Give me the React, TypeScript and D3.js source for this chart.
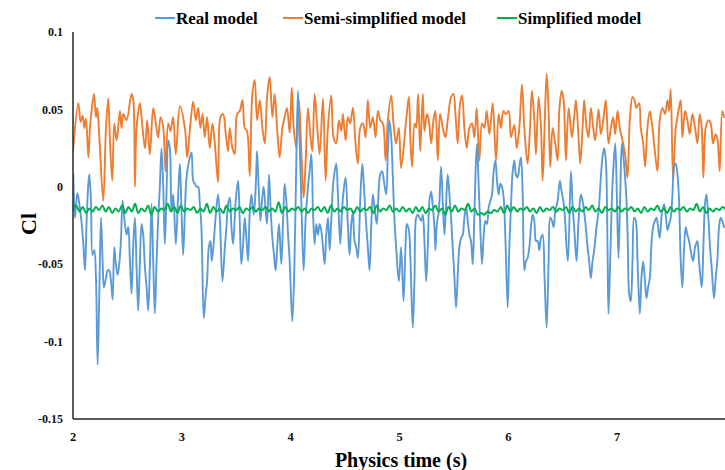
import React from 'react';
import * as d3 from 'd3';

const seriesNames = ['Real model', 'Semi-simplified model', 'Simplified model'];
const seriesColors = ['#5B9BD5', '#ED7D31', '#00B050'];
const xTicks = [2, 3, 4, 5, 6, 7];
const yTicks = [0.1, 0.05, 0, -0.05, -0.1, -0.15];
const yTickLabels = ['0.1', '0.05', '0', '-0.05', '-0.1', '-0.15'];

const realTime = [
  2.003, 2.018, 2.040, 2.058, 2.080, 2.095, 2.110, 2.125, 2.141, 2.150, 2.165, 2.180, 2.196, 2.211, 2.226, 2.242, 2.257, 2.272, 2.284, 2.303,
  2.318, 2.333, 2.349, 2.364, 2.379, 2.394, 2.410, 2.425, 2.440, 2.456, 2.471, 2.492, 2.508, 2.523, 2.538, 2.554, 2.569, 2.584, 2.599, 2.615,
  2.630, 2.645, 2.661, 2.676, 2.691, 2.706, 2.722, 2.737, 2.752, 2.768, 2.783, 2.798, 2.813, 2.829, 2.844, 2.859, 2.875, 2.890, 2.905, 2.921,
  2.945, 2.966, 2.982, 2.997, 3.012, 3.028, 3.043, 3.067, 3.089, 3.104, 3.119, 3.135, 3.150, 3.165, 3.180, 3.202, 3.220, 3.232, 3.248, 3.263,
  3.275, 3.294, 3.312, 3.333, 3.349, 3.373, 3.395, 3.410, 3.425, 3.440, 3.456, 3.471, 3.495, 3.517, 3.532, 3.547, 3.563, 3.578, 3.593, 3.609,
  3.624, 3.639, 3.661, 3.679, 3.691, 3.706, 3.722, 3.737, 3.752, 3.771, 3.783, 3.801, 3.817, 3.832, 3.847, 3.862, 3.878, 3.893, 3.914, 3.930,
  3.945, 3.960, 3.976, 3.991, 4.015, 4.034, 4.052, 4.067, 4.083, 4.098, 4.119, 4.138, 4.159, 4.174, 4.190, 4.205, 4.220, 4.235, 4.251, 4.266,
  4.281, 4.297, 4.312, 4.327, 4.343, 4.358, 4.373, 4.388, 4.404, 4.419, 4.434, 4.456, 4.471, 4.486, 4.505, 4.526, 4.541, 4.557, 4.572, 4.587,
  4.602, 4.618, 4.639, 4.658, 4.673, 4.688, 4.709, 4.725, 4.740, 4.755, 4.774, 4.792, 4.810, 4.823, 4.841, 4.856, 4.878, 4.893, 4.908, 4.924,
  4.939, 4.954, 4.969, 4.994, 5.015, 5.037, 5.055, 5.067, 5.086, 5.101, 5.122, 5.138, 5.153, 5.168, 5.183, 5.199, 5.214, 5.229, 5.245, 5.260,
  5.275, 5.291, 5.306, 5.321, 5.330, 5.343, 5.361, 5.382, 5.398, 5.413, 5.428, 5.443, 5.459, 5.474, 5.489, 5.505, 5.520, 5.535, 5.550, 5.566,
  5.581, 5.596, 5.612, 5.627, 5.642, 5.657, 5.673, 5.688, 5.703, 5.713, 5.725, 5.740, 5.758, 5.774, 5.789, 5.804, 5.820, 5.835, 5.850, 5.865,
  5.881, 5.896, 5.911, 5.927, 5.942, 5.957, 5.972, 5.994, 6.009, 6.024, 6.040, 6.055, 6.070, 6.086, 6.101, 6.116, 6.132, 6.147, 6.162, 6.177,
  6.193, 6.208, 6.223, 6.239, 6.254, 6.269, 6.284, 6.300, 6.315, 6.333, 6.352, 6.370, 6.385, 6.401, 6.416, 6.431, 6.453, 6.474, 6.489, 6.505,
  6.520, 6.535, 6.548, 6.575, 6.590, 6.605, 6.627, 6.645, 6.667, 6.682, 6.706, 6.728, 6.743, 6.758, 6.774, 6.789, 6.810, 6.829, 6.850, 6.865,
  6.881, 6.896, 6.911, 6.920, 6.936, 6.951, 6.966, 6.982, 6.997, 7.012, 7.028, 7.043, 7.058, 7.073, 7.086, 7.098, 7.110, 7.125, 7.141, 7.156,
  7.171, 7.187, 7.208, 7.223, 7.238, 7.254, 7.269, 7.284, 7.300, 7.315, 7.330, 7.346, 7.361, 7.376, 7.391, 7.410, 7.431, 7.446, 7.462, 7.477,
  7.492, 7.508, 7.523, 7.538, 7.554, 7.569, 7.584, 7.599, 7.615, 7.630, 7.645, 7.661, 7.676, 7.697, 7.716, 7.737, 7.752, 7.777, 7.792, 7.807,
  7.820, 7.838, 7.853, 7.868, 7.890, 7.905, 7.920, 7.936, 7.951, 7.966, 7.982,
];
const realCl = [
  0.008, -0.020, -0.004, -0.011, -0.024, -0.037, -0.054, -0.022, 0.002, 0.008, -0.009, -0.044, -0.041, -0.059, -0.115, -0.069, -0.020, -0.048, -0.065, -0.059,
  -0.054, -0.054, -0.061, -0.073, -0.039, -0.050, -0.057, -0.050, -0.035, -0.009, -0.020, -0.031, -0.026, -0.048, -0.069, -0.037, -0.020, -0.052, -0.080, -0.048,
  -0.024, -0.031, -0.052, -0.065, -0.080, -0.052, -0.011, -0.048, -0.082, -0.048, -0.020, 0.000, 0.025, 0.000, -0.037, -0.005, 0.030, 0.025, -0.016, -0.005,
  -0.037, -0.005, 0.015, -0.016, -0.044, -0.016, 0.006, 0.017, 0.022, 0.004, 0.002, 0.000, 0.000, -0.011, -0.026, -0.085, -0.069, -0.061, -0.039, -0.035,
  -0.048, -0.035, -0.018, -0.005, -0.020, -0.061, -0.039, -0.026, -0.011, -0.007, -0.026, -0.037, -0.009, 0.004, -0.022, -0.050, -0.037, -0.020, -0.033, -0.048,
  -0.016, -0.005, -0.018, 0.000, 0.023, 0.000, -0.022, -0.009, 0.000, -0.016, -0.024, 0.008, -0.016, -0.033, -0.044, -0.054, -0.037, -0.024, -0.050, -0.022,
  0.002, -0.009, -0.031, -0.048, -0.087, -0.052, 0.017, 0.062, 0.028, -0.009, -0.054, -0.020, 0.000, 0.010, 0.021, -0.016, -0.037, -0.024, -0.031, -0.024,
  -0.028, -0.039, -0.050, -0.031, -0.020, -0.041, -0.022, 0.000, 0.010, 0.015, -0.005, -0.037, -0.016, -0.003, 0.006, -0.026, -0.044, -0.024, -0.016, -0.035,
  -0.039, -0.046, -0.009, 0.015, 0.000, -0.018, -0.039, -0.054, -0.026, -0.005, -0.016, -0.024, 0.000, 0.008, 0.010, 0.004, -0.005, 0.023, 0.043, 0.032,
  0.006, -0.022, -0.039, -0.061, -0.039, -0.074, -0.039, -0.024, -0.028, -0.048, -0.091, -0.059, -0.020, -0.018, -0.020, -0.022, -0.018, -0.035, -0.061, -0.039,
  -0.009, -0.003, -0.013, -0.026, -0.041, -0.024, -0.016, 0.013, -0.011, -0.031, -0.011, 0.008, -0.005, -0.020, -0.039, -0.059, -0.078, -0.057, -0.039, -0.033,
  -0.031, -0.020, -0.013, -0.022, -0.031, -0.035, -0.050, -0.018, 0.017, 0.028, 0.006, -0.022, -0.050, -0.031, -0.022, -0.024, -0.013, -0.009, -0.005, 0.010,
  0.017, 0.004, -0.005, 0.002, 0.000, -0.007, -0.031, -0.078, -0.039, -0.013, 0.010, 0.017, 0.008, 0.006, 0.013, 0.019, -0.005, -0.054, -0.048, -0.046,
  -0.039, -0.026, -0.018, -0.022, -0.035, -0.035, -0.041, -0.033, -0.031, -0.059, -0.091, -0.048, -0.020, -0.022, -0.026, -0.016, -0.009, 0.004, -0.003, -0.009,
  -0.020, -0.039, -0.048, 0.010, -0.011, -0.026, -0.048, -0.022, -0.005, -0.009, -0.022, -0.039, -0.048, -0.059, -0.048, -0.041, -0.026, -0.016, 0.006, 0.019,
  0.025, 0.017, -0.037, -0.082, -0.048, -0.009, 0.013, 0.028, -0.005, -0.046, -0.005, 0.028, 0.019, 0.006, -0.009, -0.037, -0.069, -0.074, -0.048, -0.020,
  -0.022, -0.048, -0.082, -0.059, -0.048, -0.059, -0.072, -0.065, -0.059, -0.037, -0.026, -0.022, -0.020, -0.026, -0.033, -0.018, -0.011, -0.018, -0.028, -0.024,
  -0.020, -0.005, 0.013, 0.015, 0.008, -0.009, -0.048, -0.065, -0.039, -0.026, -0.031, -0.035, -0.041, -0.048, -0.039, -0.035, -0.048, -0.065, -0.039, -0.011,
  -0.005, -0.020, -0.039, -0.052, -0.072, -0.059, -0.048, -0.026, -0.020, -0.022, -0.026,
];

const semiTime = [
  2.000, 2.049, 2.070, 2.089, 2.104, 2.119, 2.141, 2.156, 2.171, 2.193, 2.211, 2.223, 2.242, 2.278, 2.303, 2.324, 2.339, 2.361, 2.379, 2.401,
  2.431, 2.446, 2.462, 2.492, 2.538, 2.554, 2.569, 2.584, 2.615, 2.630, 2.661, 2.682, 2.706, 2.737, 2.761, 2.783, 2.804, 2.829, 2.850, 2.875,
  2.896, 2.920, 2.945, 2.982, 3.028, 3.049, 3.073, 3.104, 3.128, 3.150, 3.171, 3.190, 3.211, 3.232, 3.257, 3.281, 3.303, 3.333, 3.355, 3.379,
  3.404, 3.425, 3.440, 3.465, 3.486, 3.508, 3.532, 3.557, 3.578, 3.599, 3.624, 3.648, 3.670, 3.691, 3.716, 3.740, 3.762, 3.783, 3.807, 3.832,
  3.853, 3.875, 3.899, 3.924, 3.945, 3.966, 3.991, 4.010, 4.028, 4.052, 4.076, 4.098, 4.119, 4.138, 4.159, 4.180, 4.199, 4.220, 4.242, 4.266,
  4.297, 4.321, 4.342, 4.373, 4.394, 4.419, 4.443, 4.465, 4.480, 4.505, 4.526, 4.547, 4.572, 4.596, 4.618, 4.639, 4.664, 4.688, 4.709, 4.731,
  4.755, 4.780, 4.801, 4.823, 4.847, 4.872, 4.893, 4.924, 4.945, 4.969, 4.994, 5.015, 5.061, 5.086, 5.101, 5.116, 5.138, 5.153, 5.171, 5.190,
  5.214, 5.229, 5.251, 5.269, 5.291, 5.312, 5.330, 5.352, 5.373, 5.398, 5.422, 5.443, 5.474, 5.495, 5.514, 5.535, 5.557, 5.575, 5.596, 5.618,
  5.642, 5.667, 5.688, 5.709, 5.734, 5.758, 5.780, 5.801, 5.826, 5.856, 5.887, 5.911, 5.933, 5.954, 5.979, 6.003, 6.024, 6.055, 6.077, 6.101,
  6.125, 6.147, 6.177, 6.199, 6.217, 6.239, 6.254, 6.278, 6.300, 6.315, 6.333, 6.352, 6.370, 6.385, 6.407, 6.431, 6.453, 6.468, 6.489, 6.508,
  6.529, 6.554, 6.584, 6.605, 6.621, 6.645, 6.661, 6.682, 6.697, 6.719, 6.737, 6.758, 6.780, 6.798, 6.829, 6.850, 6.872, 6.896, 6.920, 6.942,
  6.963, 6.982, 7.003, 7.024, 7.049, 7.073, 7.095, 7.116, 7.141, 7.159, 7.177, 7.202, 7.217, 7.239, 7.257, 7.278, 7.300, 7.324, 7.349, 7.370,
  7.391, 7.416, 7.440, 7.462, 7.477, 7.492, 7.514, 7.538, 7.563, 7.584, 7.599, 7.624, 7.645, 7.667, 7.691, 7.716, 7.737, 7.758, 7.777, 7.792,
  7.813, 7.838, 7.859, 7.881, 7.905, 7.923, 7.942, 7.966, 7.982,
];
const semiCl = [
  0.023, 0.054, 0.042, 0.046, 0.038, 0.044, 0.019, 0.038, 0.049, 0.060, 0.045, 0.051, 0.032, -0.009, 0.038, 0.057, 0.030, 0.004, 0.041, 0.030,
  0.049, 0.038, 0.047, 0.043, 0.060, 0.056, 0.000, 0.038, 0.054, 0.045, 0.025, 0.043, 0.021, 0.051, 0.041, 0.032, 0.045, 0.038, 0.010, 0.041,
  0.036, 0.045, 0.021, 0.052, 0.038, 0.019, 0.036, 0.055, 0.043, 0.051, 0.038, 0.047, 0.032, 0.045, 0.025, 0.041, 0.028, 0.003, 0.045, 0.047,
  0.034, 0.023, 0.038, 0.025, 0.021, 0.047, 0.049, 0.056, 0.038, 0.036, 0.007, 0.060, 0.069, 0.043, 0.056, 0.038, 0.028, 0.058, 0.071, 0.045,
  0.060, 0.038, 0.019, 0.038, 0.045, 0.051, 0.035, 0.064, 0.038, 0.025, 0.056, 0.023, -0.007, 0.017, 0.051, 0.034, 0.023, 0.060, 0.041, 0.021,
  0.057, 0.004, 0.038, 0.059, 0.032, 0.028, 0.043, 0.036, 0.047, 0.030, 0.045, 0.041, 0.051, 0.028, 0.015, 0.038, 0.041, 0.032, 0.056, 0.038,
  0.045, 0.032, 0.049, 0.043, 0.041, 0.017, 0.043, 0.059, 0.041, 0.028, 0.038, 0.012, 0.043, 0.058, 0.028, 0.013, 0.041, 0.038, 0.060, 0.023,
  0.060, 0.036, 0.047, 0.043, 0.028, 0.043, 0.049, 0.017, 0.047, 0.038, 0.032, 0.043, 0.058, 0.060, 0.047, 0.028, 0.054, 0.059, 0.038, 0.025,
  0.038, 0.041, 0.032, 0.051, 0.017, 0.041, 0.038, 0.049, 0.034, 0.054, 0.017, 0.047, 0.038, 0.049, 0.047, 0.049, 0.032, 0.040, 0.025, 0.038,
  0.066, 0.038, 0.015, 0.038, 0.062, 0.043, 0.021, 0.058, 0.038, 0.004, 0.038, 0.073, 0.049, 0.013, 0.038, 0.028, 0.017, 0.049, 0.062, 0.056,
  0.017, 0.051, 0.032, 0.045, 0.056, 0.032, 0.015, 0.038, 0.056, 0.038, 0.032, 0.051, 0.038, 0.030, 0.050, 0.034, 0.043, 0.056, 0.028, 0.038,
  0.045, 0.034, 0.049, 0.038, 0.030, 0.021, 0.006, 0.043, 0.058, 0.056, 0.051, 0.054, 0.038, 0.028, 0.013, 0.038, 0.049, 0.038, 0.021, 0.010,
  0.043, 0.051, 0.047, 0.056, 0.049, 0.063, 0.004, 0.038, 0.049, 0.056, 0.032, 0.049, 0.043, 0.034, 0.047, 0.038, 0.028, 0.047, 0.038, 0.006,
  0.038, 0.043, 0.041, 0.028, 0.034, 0.030, 0.010, 0.049, 0.045,
];

const simpStart = 2.0;
const simpStep = 0.03;
const simpCl = [
  -0.015, -0.012, -0.016, -0.013, -0.017, -0.014, -0.016, -0.013, -0.015, -0.012,
  -0.016, -0.013, -0.017, -0.014, -0.016, -0.012, -0.017, -0.013, -0.016, -0.011,
  -0.017, -0.014, -0.016, -0.012, -0.018, -0.013, -0.016, -0.014, -0.015, -0.011,
  -0.016, -0.013, -0.017, -0.012, -0.016, -0.014, -0.015, -0.013, -0.017, -0.014,
  -0.016, -0.011, -0.017, -0.013, -0.016, -0.014, -0.017, -0.012, -0.016, -0.014,
  -0.015, -0.013, -0.017, -0.014, -0.015, -0.013, -0.016, -0.014, -0.015, -0.013,
  -0.016, -0.014, -0.016, -0.010, -0.017, -0.013, -0.016, -0.014, -0.015, -0.013,
  -0.016, -0.014, -0.017, -0.014, -0.015, -0.013, -0.016, -0.013, -0.017, -0.012,
  -0.016, -0.014, -0.016, -0.013, -0.015, -0.014, -0.017, -0.013, -0.016, -0.014,
  -0.015, -0.013, -0.017, -0.012, -0.016, -0.014, -0.015, -0.012, -0.016, -0.014,
  -0.016, -0.013, -0.016, -0.014, -0.017, -0.013, -0.016, -0.013, -0.017, -0.014,
  -0.015, -0.012, -0.016, -0.014, -0.018, -0.013, -0.016, -0.012, -0.016, -0.014,
  -0.015, -0.011, -0.016, -0.014, -0.018, -0.017, -0.018, -0.016, -0.017, -0.015,
  -0.016, -0.013, -0.017, -0.012, -0.016, -0.013, -0.016, -0.014, -0.015, -0.013,
  -0.016, -0.014, -0.017, -0.013, -0.016, -0.014, -0.015, -0.013, -0.016, -0.014,
  -0.015, -0.013, -0.017, -0.013, -0.016, -0.014, -0.016, -0.013, -0.015, -0.012,
  -0.016, -0.014, -0.017, -0.013, -0.015, -0.014, -0.016, -0.013, -0.016, -0.014,
  -0.015, -0.013, -0.016, -0.014, -0.017, -0.013, -0.016, -0.014, -0.015, -0.012,
  -0.016, -0.014, -0.017, -0.013, -0.016, -0.014, -0.015, -0.013, -0.016, -0.014,
  -0.015, -0.011, -0.016, -0.013, -0.017, -0.014, -0.016, -0.014, -0.015, -0.013,
  -0.015,
];

const FONT = "'Liberation Serif', 'Times New Roman', serif";

export default function App() {
  const W = 725;
  const H = 470;
  const x = d3.scaleLinear().domain([2, 8]).range([73, 726]);
  const y = d3.scaleLinear().domain([-0.15, 0.1]).range([419, 32]);

  const real = realTime.map((t, i) => [t, realCl[i]] as [number, number]);
  const semi = semiTime.map((t, i) => [t, semiCl[i]] as [number, number]);
  const simp = simpCl.map((v, i) => [simpStart + i * simpStep, v] as [number, number]);

  const line = d3
    .line<[number, number]>()
    .x((d) => x(d[0]))
    .y((d) => y(d[1]))
    .curve(d3.curveCatmullRom.alpha(0.5));

  const legendItems = [
    { name: seriesNames[0], color: seriesColors[0], lx: 155 },
    { name: seriesNames[1], color: seriesColors[1], lx: 283 },
    { name: seriesNames[2], color: seriesColors[2], lx: 497 },
  ];

  return (
    <svg
      width={W}
      height={H}
      style={{ position: 'absolute', left: 0, top: 0, background: '#fff' }}
      fontFamily={FONT}
    >
      <rect x={0} y={0} width={W} height={H} fill="#fff" />
      <defs>
        <clipPath id="plot">
          <rect x={73} y={20} width={660} height={400} />
        </clipPath>
      </defs>

      <g clipPath="url(#plot)" fill="none" strokeLinejoin="round" strokeLinecap="round">
        <path d={line(semi) || ''} stroke={seriesColors[1]} strokeWidth={1.9} />
        <path d={line(real) || ''} stroke={seriesColors[0]} strokeWidth={1.9} />
        <path d={line(simp) || ''} stroke={seriesColors[2]} strokeWidth={2} />
      </g>

      <line x1={x(2)} x2={x(2)} y1={y(0.1)} y2={y(-0.15)} stroke="#262626" strokeWidth={1.5} />
      <line x1={x(2)} x2={W} y1={y(-0.15)} y2={y(-0.15)} stroke="#262626" strokeWidth={1.5} />

      {yTicks.map((v, i) => (
        <text
          key={'y' + i}
          x={63}
          y={y(v)}
          dy="0.35em"
          textAnchor="end"
          fontSize={12}
          fontWeight="bold"
          fill="#111"
        >
          {yTickLabels[i]}
        </text>
      ))}
      {xTicks.map((v) => (
        <text
          key={'x' + v}
          x={x(v)}
          y={441}
          textAnchor="middle"
          fontSize={12.5}
          fontWeight="bold"
          fill="#111"
        >
          {v}
        </text>
      ))}

      <text x={401} y={467} textAnchor="middle" fontSize={20} fontWeight="bold" fill="#000">
        Physics time (s)
      </text>
      <text
        transform={`translate(36, 224) rotate(-90)`}
        textAnchor="middle"
        fontSize={22}
        fontWeight="bold"
        fill="#000"
      >
        Cl
      </text>

      {legendItems.map((it) => (
        <g key={it.name}>
          <line x1={it.lx} x2={it.lx + 20} y1={18} y2={18} stroke={it.color} strokeWidth={2} />
          <text x={it.lx + 21} y={24} fontSize={17} fontWeight="bold" fill="#000">
            {it.name}
          </text>
        </g>
      ))}
    </svg>
  );
}
